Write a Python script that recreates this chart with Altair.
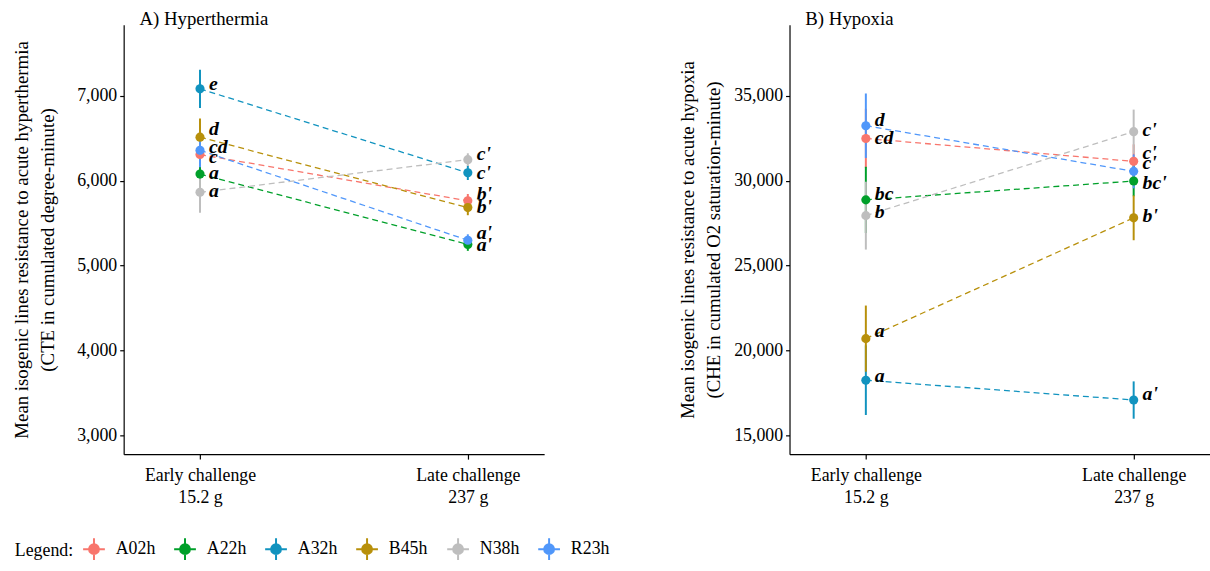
import altair as alt
import pandas as pd

lines = ["A02h", "A22h", "A32h", "B45h", "N38h", "R23h"]
colors = ["#F8766D", "#00A02A", "#1193BF", "#B8900B", "#BEBEBE", "#5097FA"]
stages = ["Early challenge|15.2 g", "Late challenge|237 g"]

# A) Hyperthermia (CTE, cumulated degree-minute)
hyper_early = [6310, 6080, 7085, 6515, 5865, 6360]
hyper_early_err = [200, 210, 225, 220, 240, 200]
hyper_late = [5765, 5250, 6095, 5685, 6250, 5300]
hyper_late_err = [80, 75, 85, 90, 75, 70]
hyper_early_letters = ["c", "a", "e", "d", "a", "cd"]
hyper_late_letters = ["b'", "a'", "c'", "b'", "c'", "a'"]
# where each letter sits (data units, repelled like in the original)
hyper_early_label_at = [6277, 6090, 7140, 6615, 5880, 6394]
hyper_late_label_at = [5845, 5239, 6090, 5694, 6315, 5390]

# B) Hypoxia (CHE, cumulated O2 saturation-minute)
hypox_early = [32500, 28880, 18250, 20700, 27950, 33250]
hypox_early_err = [1750, 1950, 2050, 1950, 2000, 1900]
hypox_late = [31150, 29990, 17080, 27820, 32900, 30560]
hypox_late_err = [1000, 900, 1100, 1320, 1300, 1000]
hypox_early_letters = ["cd", "bc", "a", "a", "b", "d"]
hypox_late_letters = ["c'", "bc'", "a'", "b'", "c'", "c'"]
hypox_early_label_at = [32550, 29230, 18500, 21120, 28180, 33600]
hypox_late_label_at = [31620, 29870, 17450, 27940, 33020, 31035]

hyper_ticks = [3000, 4000, 5000, 6000, 7000]
hypox_ticks = [15000, 20000, 25000, 30000, 35000]

FONT = "Liberation Serif"


def make_df(early, early_err, late, late_err, el, ll, ela, lla):
    rows = []
    for i, ln in enumerate(lines):
        rows.append(dict(line=ln, stage=stages[0], mean=early[i],
                         lo=early[i] - early_err[i], hi=early[i] + early_err[i],
                         letter=el[i], lab=ela[i]))
        rows.append(dict(line=ln, stage=stages[1], mean=late[i],
                         lo=late[i] - late_err[i], hi=late[i] + late_err[i],
                         letter=ll[i], lab=lla[i]))
    return pd.DataFrame(rows)


legend = alt.Legend(
    title="Legend:", orient="none", direction="horizontal", legendX=-110, legendY=518,
    titleOrient="left", titleFont=FONT, titleFontSize=18, titleFontWeight="normal",
    titleColor="black", titlePadding=9, titleBaseline="middle",
    labelFont=FONT, labelFontSize=18, labelColor="black", labelOffset=10,
    symbolType="M-1,0L1,0M0,-1L0,1M0.45,0A0.45,0.45,0,1,1,-0.45,0A0.45,0.45,0,1,1,0.45,0Z",
    symbolSize=484, symbolStrokeWidth=2, columnPadding=15, symbolOpacity=1,
)


def panel(df, title, ytitle, domain, ticks):
    base = alt.Chart(df)
    x = alt.X("stage:N", sort=stages,
              scale=alt.Scale(type="point", padding=0.285),
              axis=alt.Axis(title=None, labelExpr="split(datum.label, '|')",
                            labelFont=FONT, labelFontSize=18, labelColor="black",
                            labelLineHeight=22, labelPadding=8, labelAngle=0,
                            tickSize=5, tickColor="black", domainColor="black",
                            domainWidth=1.2, tickWidth=1.2, grid=False))
    y = alt.Y("mean:Q",
              scale=alt.Scale(domain=domain, nice=False, zero=False),
              axis=alt.Axis(values=ticks, format=",.0f", title=ytitle,
                            labelFont=FONT, labelFontSize=18, labelColor="black",
                            titleFont=FONT, titleFontSize=19, titleFontWeight="normal",
                            titleColor="black", titleLineHeight=26,
                            titleX=-103, titleY=217, titleAngle=270,
                            titleAlign="center", titleBaseline="middle",
                            tickSize=4, tickColor="black", domainColor="black",
                            domainWidth=1.2, tickWidth=1.2, labelPadding=3, grid=False))
    color = alt.Color("line:N", scale=alt.Scale(domain=lines, range=colors), legend=legend)
    ln = base.mark_line(strokeDash=[6, 4], strokeWidth=1.3).encode(x=x, y=y, color=color)
    eb = base.mark_rule(strokeWidth=2).encode(x=x, y="lo:Q", y2="hi:Q", color=color)
    pt = base.mark_point(filled=True, size=85, opacity=1).encode(x=x, y=y, color=color)
    tx = base.mark_text(align="left", baseline="middle", dx=9, font=FONT,
                        fontSize=20, fontWeight="bold", fontStyle="italic",
                        color="black").encode(x=x, y="lab:Q", text="letter:N")
    return alt.layer(ln, eb, pt, tx).properties(
        width=425, height=434,
        title=alt.TitleParams(title, anchor="start", frame="group", font=FONT, fontSize=19,
                              fontWeight="normal", color="black", dx=16, offset=-4),
    )


left = panel(make_df(hyper_early, hyper_early_err, hyper_late, hyper_late_err,
                     hyper_early_letters, hyper_late_letters,
                     hyper_early_label_at, hyper_late_label_at),
             "A) Hyperthermia",
             ["Mean isogenic lines resistance to acute hyperthermia",
              "(CTE in cumulated degree-minute)"],
             [2778, 7840], hyper_ticks)
right = panel(make_df(hypox_early, hypox_early_err, hypox_late, hypox_late_err,
                      hypox_early_letters, hypox_late_letters,
                      hypox_early_label_at, hypox_late_label_at),
              "B) Hypoxia",
              ["Mean isogenic lines resistance to acute hypoxia",
               "(CHE in cumulated O2 saturation-minute)"],
              [13890, 39200], hypox_ticks)

chart = alt.hconcat(left, right, spacing=135).properties(
    padding={"left": 12, "top": 7, "right": 0, "bottom": 0}
).configure(
    background="white",
    view=alt.ViewConfig(stroke="transparent", strokeWidth=0),
)

chart.save("out.html", embed_options={"renderer": "svg", "actions": False})
